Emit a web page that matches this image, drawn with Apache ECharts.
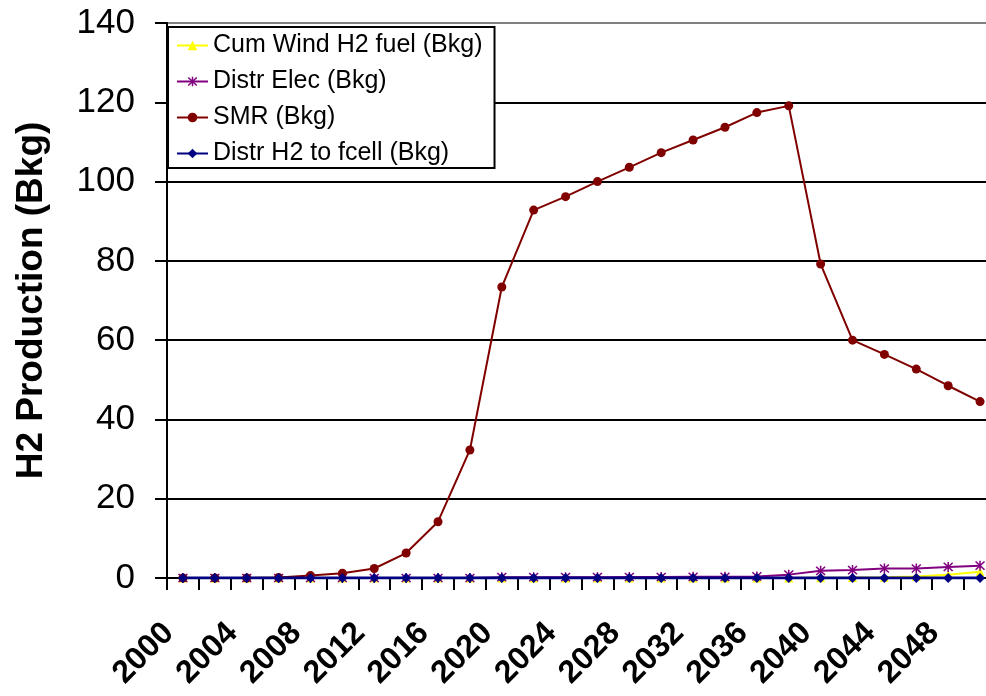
<!DOCTYPE html>
<html>
<head>
<meta charset="utf-8">
<script src="https://cdn.jsdelivr.net/npm/echarts@6/dist/echarts.min.js"></script>
<style>
html,body{margin:0;padding:0;background:#fff;}
#chart{width:986px;height:696px;}
</style>
</head>
<body>
<div id="chart"></div>
<script>
var years = ['2000','2002','2004','2006','2008','2010','2012','2014','2016','2018','2020','2022','2024','2026','2028','2030','2032','2034','2036','2038','2040','2042','2044','2046','2048','2050'];
var cumWind = [0,0,0,0,0,0,0,0,0,0,0,0,0,0,0,0,0,0,0,0,0.05,0.1,0.2,0.4,0.8,1.6];
var distrElec = [0,0,0,0,0,0,0,0,0,0,0.2,0.2,0.2,0.2,0.25,0.25,0.3,0.3,0.4,0.85,1.8,2.0,2.4,2.4,2.8,3.1];
var smr = [0,0,0,0.1,0.6,1.2,2.4,6.3,14.2,32.3,73.4,92.8,96.2,100.0,103.6,107.3,110.5,113.7,117.4,119.1,79.2,60.0,56.4,52.7,48.5,44.5];
var distrH2 = [0,0,0,0,0,0,0,0,0,0,0,0,0,0,0,0,0,0,0,0,0,0,0,0,0,0];
var yTicks = {min:0, max:140, interval:20};
var seriesNames = ['Cum Wind H2 fuel (Bkg)','Distr Elec (Bkg)','SMR (Bkg)','Distr H2 to fcell (Bkg)'];

var FONT = '"Liberation Sans", Arial, sans-serif';
var asterisk = 'path://M4.3,0 L5.7,0 L5.7,10 L4.3,10 Z M1.4,0.4 L9.6,8.6 L8.6,9.6 L0.4,1.4 Z M8.6,0.4 L9.6,1.4 L1.4,9.6 L0.4,8.6 Z';

var chart = echarts.init(document.getElementById('chart'), null, {renderer:'canvas'});
chart.setOption({
  animation:false,
  backgroundColor:'#ffffff',
  grid:{left:167, top:23, width:829, height:555, containLabel:false, outerBoundsMode:'none'},
  legend:{
    orient:'vertical', left:168, top:27,
    backgroundColor:'#ffffff', borderColor:'#000000', borderWidth:2,
    padding:[6,12,2,8],
    itemWidth:31, itemHeight:12, itemGap:11,
    textStyle:{fontFamily:FONT, fontSize:25, color:'#000', lineHeight:25},
    data:seriesNames
  },
  xAxis:{
    type:'category', data:years, boundaryGap:true,
    axisLine:{lineStyle:{color:'#000', width:2}},
    axisTick:{show:true, interval:0, length:12, lineStyle:{color:'#000', width:2}},
    axisLabel:{interval:1, rotate:45, margin:36, padding:[0,20,0,0], fontFamily:FONT, fontSize:32, fontWeight:'bold', color:'#000'},
    splitLine:{show:false}
  },
  yAxis:{
    type:'value', min:yTicks.min, max:yTicks.max, interval:yTicks.interval,
    name:'H2 Production (Bkg)', nameLocation:'middle', nameGap:117,
    nameTextStyle:{fontFamily:FONT, fontSize:37, fontWeight:'bold', color:'#000'},
    axisLine:{show:true, lineStyle:{color:'#000', width:2}},
    axisTick:{show:true, length:12, lineStyle:{color:'#000', width:2}},
    axisLabel:{margin:32, fontFamily:FONT, fontSize:35, color:'#000'},
    splitLine:{show:true, lineStyle:{color:['#000','#000','#000','#000','#000','#000','#000','#808080'], width:2}}
  },
  series:[
    {name:seriesNames[0], type:'line', data:cumWind, color:'#FFFF00', symbol:'triangle', symbolSize:9, showAllSymbol:true,
      lineStyle:{width:2, color:'#FFFF00'}, itemStyle:{color:'#FFFF00'}},
    {name:seriesNames[1], type:'line', data:distrElec, color:'#800080', symbol:asterisk, symbolSize:10, showAllSymbol:true,
      lineStyle:{width:2, color:'#800080'}, itemStyle:{color:'#800080'}},
    {name:seriesNames[2], type:'line', data:smr, color:'#800000', symbol:'circle', symbolSize:9, showAllSymbol:true,
      lineStyle:{width:2, color:'#800000'}, itemStyle:{color:'#800000'}},
    {name:seriesNames[3], type:'line', data:distrH2, color:'#000080', symbol:'diamond', symbolSize:10, showAllSymbol:true,
      lineStyle:{width:3, color:'#000080'}, itemStyle:{color:'#000080'}}
  ]
});
</script>
</body>
</html>
